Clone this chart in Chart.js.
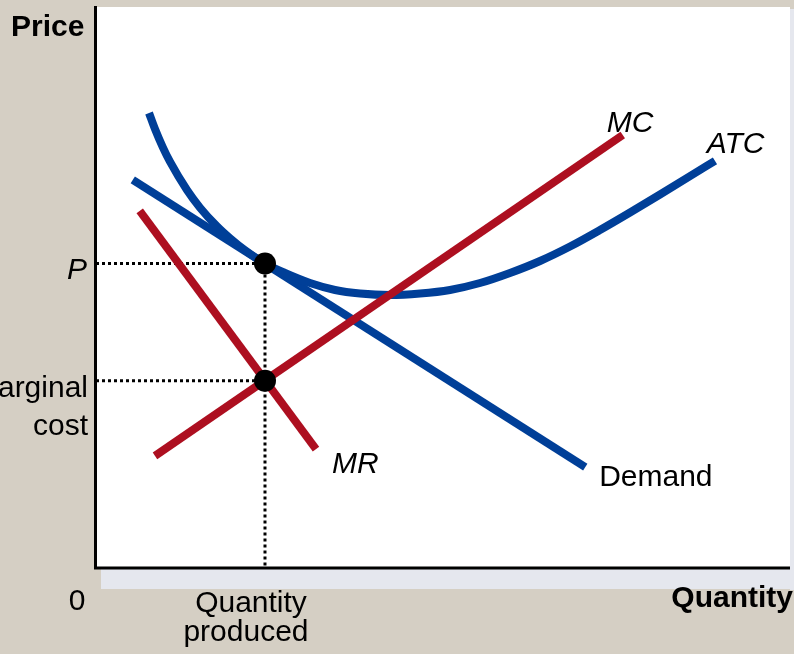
<!DOCTYPE html>
<html>
<head>
<meta charset="utf-8">
<script src="https://cdn.jsdelivr.net/npm/chart.js@4"></script>
<style>
  html, body { margin: 0; padding: 0; background: #d5cfc4; }
  canvas { display: block; }
</style>
</head>
<body>
<canvas id="c" width="794" height="654"></canvas>
<script>
// ---- data (abstract units 0..100 on both axes) ----
const demandX = [5.3, 70.5];
const demandY = [69.0, 17.8];
const mrX = [6.3, 31.7];
const mrY = [63.5, 21.0];
const mcX = [8.5, 75.9];
const mcY = [19.8, 77.0];
const atcX = [7.64, 8.50, 9.65, 10.66, 13.11, 14.99, 17.44, 19.31, 21.47, 24.35, 27.23, 30.84, 34.44, 38.04, 42.36, 46.69, 51.01, 55.33, 59.65, 63.98, 68.30, 72.62, 76.95, 81.27, 85.59, 89.19];
const atcY = [80.93, 78.07, 74.76, 72.25, 67.20, 64.05, 60.71, 58.59, 56.45, 54.10, 52.41, 50.62, 49.38, 48.75, 48.48, 48.75, 49.38, 50.62, 52.41, 54.55, 57.13, 60.07, 63.19, 66.40, 69.66, 72.41];
const qProduced = 24.35;
const priceP = 54.1;
const marginalCost = 33.2;
const curveLabels = ['MC', 'ATC', 'MR', 'Demand'];
const curveLabelX = [73.6, 88.0, 34.0, 72.5];
const curveLabelY = [77.5, 73.8, 16.8, 14.4];
const yTickLabels = ['P', 'Marginal', 'cost'];
const xTickLabels = ['0', 'Quantity', 'produced'];
const axisTitles = ['Price', 'Quantity'];

const BLUE = '#003f98';
const RED = '#ad0f20';
const FONT = '"Liberation Sans", Arial, sans-serif';

const pts = (xs, ys) => xs.map((x, i) => ({ x, y: ys[i] }));

const framePlugin = {
  id: 'frame',
  beforeDraw(chart) {
    const { ctx, chartArea: a } = chart;
    ctx.save();
    ctx.fillStyle = '#d5cfc4';
    ctx.fillRect(0, 0, chart.width, chart.height);
    // shadow
    ctx.fillStyle = '#e5e7ee';
    ctx.fillRect(a.right, a.top + 3, chart.width - a.right, a.bottom - a.top + 20);
    ctx.fillRect(a.left + 5, a.bottom, chart.width - a.left - 5, 22);
    // plot area
    ctx.fillStyle = '#ffffff';
    ctx.fillRect(a.left, a.top + 1, a.right - a.left, a.bottom - a.top);
    ctx.restore();
  },
  beforeDatasetsDraw(chart) {
    const { ctx, chartArea: a } = chart;
    ctx.save();
    ctx.strokeStyle = '#000';
    ctx.lineWidth = 3;
    ctx.beginPath();
    ctx.moveTo(a.left - 0.5, a.top);
    ctx.lineTo(a.left - 0.5, a.bottom + 1);
    ctx.lineTo(a.right, a.bottom + 1);
    ctx.stroke();
    ctx.restore();
  },
  afterDraw(chart) {
    const { ctx, chartArea: a, scales } = chart;
    const xs = scales.x, ys = scales.y;
    ctx.save();
    ctx.fillStyle = '#000';
    ctx.textBaseline = 'alphabetic';
    // curve labels
    ctx.textAlign = 'left';
    curveLabels.forEach((t, i) => {
      ctx.font = (t === 'Demand' ? '' : 'italic ') + '30px ' + FONT;
      ctx.fillText(t, xs.getPixelForValue(curveLabelX[i]), ys.getPixelForValue(curveLabelY[i]));
    });
    // y tick labels
    ctx.textAlign = 'right';
    ctx.font = 'italic 30px ' + FONT;
    ctx.fillText(yTickLabels[0], a.left - 9, ys.getPixelForValue(priceP) + 16);
    ctx.font = '30px ' + FONT;
    const mcPix = ys.getPixelForValue(marginalCost);
    ctx.fillText(yTickLabels[1], a.left - 8, mcPix + 16);
    ctx.fillText(yTickLabels[2], a.left - 8, mcPix + 54);
    // x tick labels
    ctx.textAlign = 'center';
    ctx.fillText(xTickLabels[0], a.left - 19, a.bottom + 43);
    const qPix = xs.getPixelForValue(qProduced);
    ctx.fillText(xTickLabels[1], qPix - 14, a.bottom + 45);
    ctx.fillText(xTickLabels[2], qPix - 19, a.bottom + 74);
    // axis titles
    ctx.font = 'bold 30px ' + FONT;
    ctx.textAlign = 'left';
    ctx.fillText(axisTitles[0], 11, 36);
    ctx.textAlign = 'right';
    ctx.fillText(axisTitles[1], chart.width - 1, a.bottom + 40);
    ctx.restore();
  }
};

new Chart(document.getElementById('c'), {
  type: 'line',
  data: {
    datasets: [
      { // equilibrium points
        data: [{ x: qProduced, y: priceP }, { x: qProduced, y: marginalCost }],
        showLine: false, pointRadius: 11, pointBackgroundColor: '#000',
        pointBorderWidth: 0, order: 0
      },
      { data: pts(mcX, mcY), borderColor: RED, borderWidth: 8, pointRadius: 0, order: 1 },
      { data: pts(mrX, mrY), borderColor: RED, borderWidth: 8, pointRadius: 0, order: 1 },
      { data: pts(atcX, atcY), borderColor: BLUE, borderWidth: 8, pointRadius: 0, cubicInterpolationMode: 'monotone', order: 2 },
      { data: pts(demandX, demandY), borderColor: BLUE, borderWidth: 8, pointRadius: 0, order: 2 },
      { // dotted guides
        data: [{ x: 0, y: priceP }, { x: qProduced, y: priceP }, { x: qProduced, y: 0 }],
        borderColor: '#000', borderWidth: 3, borderDash: [3, 3], pointRadius: 0, order: 3
      },
      {
        data: [{ x: 0, y: marginalCost }, { x: qProduced, y: marginalCost }],
        borderColor: '#000', borderWidth: 3, borderDash: [3, 3], pointRadius: 0, order: 3
      }
    ]
  },
  options: {
    responsive: false,
    animation: false,
    layout: { autoPadding: false, padding: { left: 96, right: 4, top: 6, bottom: 87 } },
    plugins: { legend: { display: false }, tooltip: { enabled: false } },
    scales: {
      x: { type: 'linear', min: 0, max: 100, display: false },
      y: { type: 'linear', min: 0, max: 100, display: false }
    },
    elements: { line: { borderCapStyle: 'butt', borderJoinStyle: 'round', fill: false } }
  },
  plugins: [framePlugin]
});
</script>
</body>
</html>
